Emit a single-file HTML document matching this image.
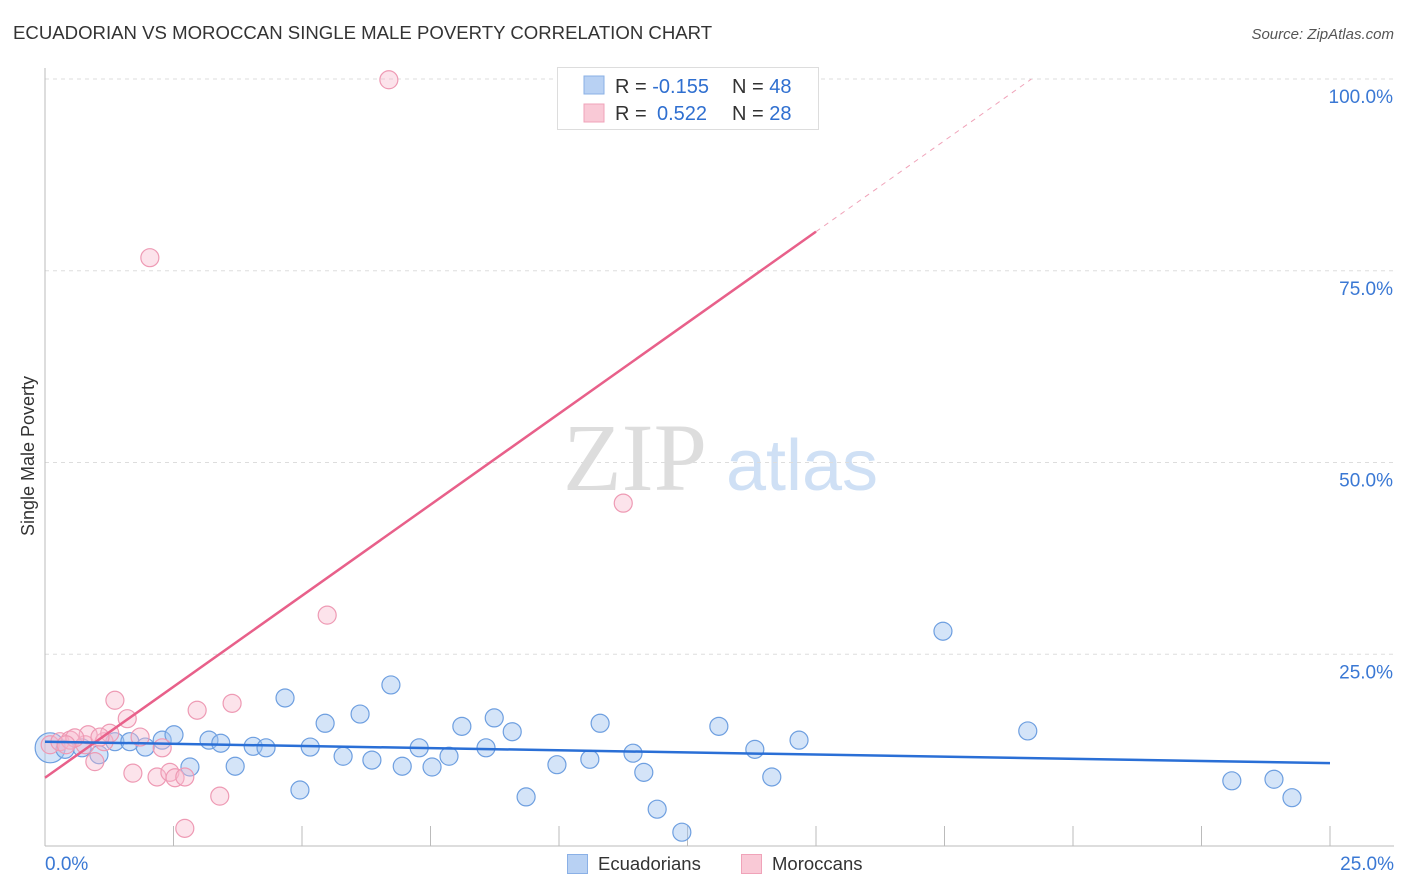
<!DOCTYPE html>
<html><head><meta charset="utf-8">
<style>
body{margin:0;background:#fff;font-family:"Liberation Sans",sans-serif;}
svg{display:block}
</style></head><body>
<svg id="chart" width="1406" height="892" viewBox="0 0 1406 892">
<text x="13" y="39" font-size="18.6" fill="#333">ECUADORIAN VS MOROCCAN SINGLE MALE POVERTY CORRELATION CHART</text>
<text x="1394" y="39" font-size="15" fill="#555" font-style="italic" text-anchor="end">Source: ZipAtlas.com</text>
<text x="34" y="456" font-size="18" fill="#333" text-anchor="middle" transform="rotate(-90 34 456)">Single Male Poverty</text>
<g>
<text x="635" y="490" font-size="96" fill="#ddd" font-family="Liberation Serif, serif" text-anchor="middle">ZIP</text>
<text x="802" y="490" font-size="72" fill="#cfe0f5" text-anchor="middle">atlas</text>
</g>
<g id="grid"></g>
<g id="axes"></g>
<g id="marks"></g>
<g>
<rect x="557.5" y="67.5" width="261" height="62" fill="#fff" stroke="#ddd"/>
<rect x="584" y="76" width="20" height="18" fill="#b8d1f3" stroke="#8ab0e6"/>
<rect x="584" y="104" width="20" height="18" fill="#f9c9d6" stroke="#f0a3b9"/>
<text x="615" y="93" font-size="20" fill="#333">R = <tspan fill="#2f6fd0">-0.155</tspan><tspan x="732">N = </tspan><tspan fill="#2f6fd0">48</tspan></text>
<text x="615" y="120" font-size="20" fill="#333">R = <tspan x="657" fill="#2f6fd0">0.522</tspan><tspan x="732">N = </tspan><tspan fill="#2f6fd0">28</tspan></text>
</g>
<g>
<rect x="567.5" y="854.5" width="20" height="19" fill="#b8d1f3" stroke="#8ab0e6"/>
<text x="598" y="870" font-size="18.5" fill="#333">Ecuadorians</text>
<rect x="741.5" y="854.5" width="20" height="19" fill="#f9c9d6" stroke="#f0a3b9"/>
<text x="772" y="870" font-size="18.5" fill="#333">Moroccans</text>
</g>
</svg>
<script>
const blueX=[0.10,0.39,0.72,1.05,1.36,1.65,1.95,2.28,2.51,2.82,3.19,3.42,3.70,4.05,4.30,4.67,4.96,5.16,5.45,5.80,6.13,6.36,6.73,6.95,7.28,7.53,7.86,8.11,8.58,8.74,9.09,9.36,9.96,10.60,10.80,11.44,11.65,11.91,12.39,13.11,13.81,14.14,14.67,17.47,19.12,23.09,23.91,24.26];
const blueY=[12.8,12.6,12.8,11.9,13.6,13.6,12.9,13.8,14.5,10.3,13.8,13.4,10.4,13.0,12.8,19.3,7.3,12.9,16.0,11.7,17.2,11.2,21.0,10.4,12.8,10.3,11.7,15.6,12.8,16.7,14.9,6.4,10.6,11.3,16.0,12.1,9.6,4.8,1.8,15.6,12.6,9.0,13.8,28.0,15.0,8.5,8.7,6.3];
const pinkX=[0.10,0.29,0.49,0.78,0.84,0.97,1.15,1.26,1.36,1.60,1.85,1.71,2.04,2.18,2.28,2.43,2.53,2.72,2.72,2.96,3.40,3.64,5.49,6.69,11.25,0.58,0.41,1.07];
const pinkY=[13.2,13.6,13.8,13.2,14.5,11.0,13.6,14.7,19.0,16.6,14.2,9.5,76.7,9.0,12.8,9.6,8.9,9.0,2.3,17.7,6.5,18.6,30.1,99.9,44.7,14.1,13.2,14.2];
const yTicks=[25,50,75,100];
const xTickLabels=["0.0%","25.0%"];
const blueTrend=[13.6,10.8];
const pinkTrend=[8.9,80.1];
const NS="http://www.w3.org/2000/svg";
const X=v=>45+v/25*1285, Y=v=>846-v/100*767;
function mk(tag,attrs,parent){const e=document.createElementNS(NS,tag);for(const k in attrs)e.setAttribute(k,attrs[k]);parent.appendChild(e);return e;}
const grid=document.getElementById('grid'),axes=document.getElementById('axes'),marks=document.getElementById('marks');
yTicks.forEach(t=>{
 const l=mk('line',{x1:45,x2:1394,y1:Y(t),y2:Y(t),stroke:'#ddd','stroke-dasharray':'4,4'},grid);
 
 
 const tx=mk('text',{x:1393,y:Y(t)+24,'font-size':19,fill:'#3a78d4','text-anchor':'end'},axes);
 tx.textContent=t.toFixed(1)+'%';
 
 
});
const ya=mk('line',{x1:45,x2:45,y1:68,y2:846,stroke:'#bbb'},axes);


const xa=mk('line',{x1:45,x2:1394,y1:846,y2:846,stroke:'#bbb'},axes);


for(let i=1;i<=10;i++){const t=mk('line',{x1:X(i*2.5),x2:X(i*2.5),y1:826,y2:846,stroke:'#bbb'},axes);
 
 }
[[0,'start',45],[25,'end',1394]].forEach((d,i)=>{const t=mk('text',{x:d[2],y:870,'font-size':19,fill:'#3a78d4','text-anchor':d[1]},axes);t.textContent=xTickLabels[i];
 
 });
blueX.forEach((x,i)=>{const c=mk('circle',{cx:X(x),cy:Y(blueY[i]),r:i==0?15:9,fill:'rgba(160,195,240,0.45)',stroke:'#6e9fe0','stroke-width':1.2},marks);
 
 });
pinkX.forEach((x,i)=>{const c=mk('circle',{cx:X(x),cy:Y(pinkY[i]),r:9,fill:'rgba(248,185,205,0.4)',stroke:'#ee9ab4','stroke-width':1.2},marks);
 
 });
const slope=(pinkTrend[1]-pinkTrend[0])/15, xEnd=(100-pinkTrend[0])/slope;
const pd=mk('line',{x1:X(15),y1:Y(pinkTrend[1]),x2:X(xEnd),y2:Y(100),stroke:'#f0a3b9','stroke-dasharray':'5,5','stroke-width':1},marks);


const pl=mk('line',{x1:X(0),y1:Y(pinkTrend[0]),x2:X(15),y2:Y(pinkTrend[1]),stroke:'#e8608a','stroke-width':2.5},marks);


const bl=mk('line',{x1:X(0),y1:Y(blueTrend[0]),x2:X(25),y2:Y(blueTrend[1]),stroke:'#2a6fd6','stroke-width':2.5},marks);


</script>
</body></html>
